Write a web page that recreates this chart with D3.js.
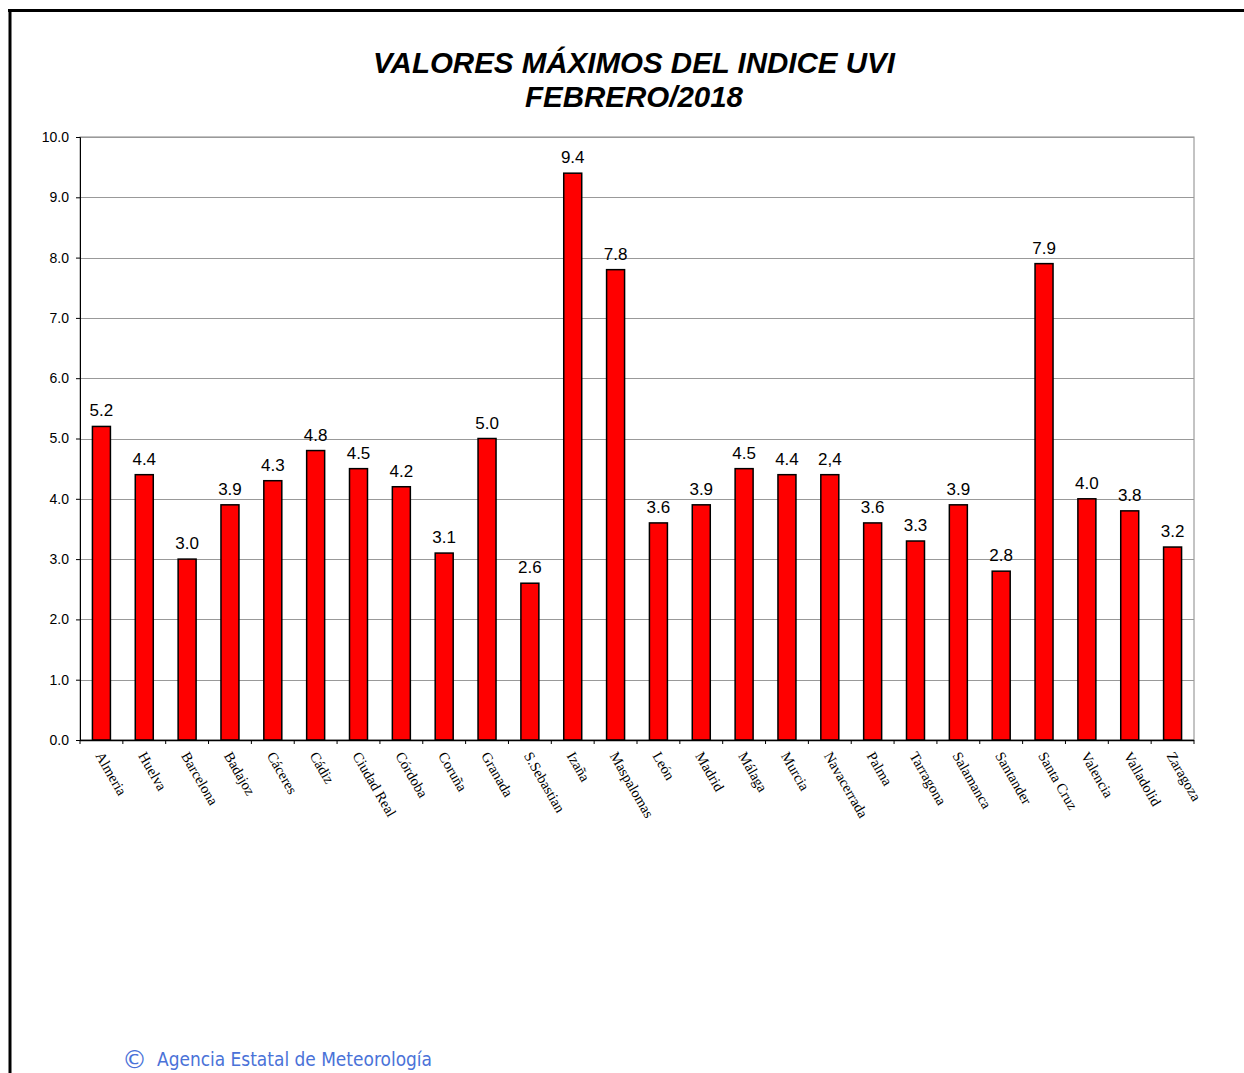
<!DOCTYPE html>
<html>
<head>
<meta charset="utf-8">
<script src="https://cdn.jsdelivr.net/npm/d3@7"></script>
<style>
  body { margin: 0; background: #fff; }
  svg { display: block; }
</style>
</head>
<body>
<div id="chart"></div>
<script>
var svgWidth = 1244;
var svgHeight = 1073;

// data
var cities = ["Almeria", "Huelva", "Barcelona", "Badajoz", "Cáceres", "Cádiz", "Ciudad Real",
  "Córdoba", "Coruña", "Granada", "S.Sebastian", "Izaña", "Maspalomas", "León", "Madrid",
  "Málaga", "Murcia", "Navacerrada", "Palma", "Tarragona", "Salamanca", "Santander",
  "Santa Cruz", "Valencia", "Valladolid", "Zaragoza"];
var uviValues = [5.2, 4.4, 3.0, 3.9, 4.3, 4.8, 4.5, 4.2, 3.1, 5.0, 2.6, 9.4, 7.8, 3.6, 3.9,
  4.5, 4.4, 4.4, 3.6, 3.3, 3.9, 2.8, 7.9, 4.0, 3.8, 3.2];
var valueLabels = ["5.2", "4.4", "3.0", "3.9", "4.3", "4.8", "4.5", "4.2", "3.1", "5.0", "2.6",
  "9.4", "7.8", "3.6", "3.9", "4.5", "4.4", "2,4", "3.6", "3.3", "3.9", "2.8", "7.9", "4.0",
  "3.8", "3.2"];
var yTicks = [0, 1, 2, 3, 4, 5, 6, 7, 8, 9, 10];
var titleLines = ["VALORES MÁXIMOS DEL INDICE UVI", "FEBRERO/2018"];

var margin = { top: 137, right: 50, bottom: 333, left: 80 };
var width = svgWidth - margin.left - margin.right;
var height = svgHeight - margin.top - margin.bottom;

var svg = d3.select("#chart")
  .append("svg")
  .attr("width", svgWidth)
  .attr("height", svgHeight);

// outer frame (top and left edges only visible)
svg.append("line")
  .attr("x1", 8).attr("x2", svgWidth).attr("y1", 10.5).attr("y2", 10.5)
  .attr("stroke", "#000").attr("stroke-width", 3);
svg.append("line")
  .attr("x1", 10).attr("x2", 10).attr("y1", 9).attr("y2", svgHeight)
  .attr("stroke", "#000").attr("stroke-width", 3);

// title
svg.selectAll(".title")
  .data(titleLines)
  .enter()
  .append("text")
  .attr("class", "title")
  .attr("x", 634)
  .attr("y", (d, i) => 73 + i * 34)
  .attr("text-anchor", "middle")
  .style("font-family", "Liberation Sans, Arial, sans-serif")
  .style("font-size", "29.5px")
  .style("font-weight", "bold")
  .style("font-style", "italic")
  .text(d => d);

var chartGroup = svg.append("g")
  .attr("transform", `translate(${margin.left}, ${margin.top})`);

var xScale = d3.scaleBand()
  .domain(cities)
  .range([0, width])
  .paddingInner(0.58)
  .paddingOuter(0.29);

var yScale = d3.scaleLinear()
  .domain([0, 10])
  .range([height, 0]);

// plot frame
chartGroup.append("rect")
  .attr("x", 0).attr("y", 0)
  .attr("width", width).attr("height", height)
  .attr("fill", "none")
  .attr("stroke", "#888")
  .attr("stroke-width", 1);

// gridlines
chartGroup.selectAll(".grid")
  .data(yTicks.slice(1))
  .enter()
  .append("line")
  .attr("class", "grid")
  .attr("x1", 0).attr("x2", width)
  .attr("y1", d => Math.round(yScale(d)) + 0.5)
  .attr("y2", d => Math.round(yScale(d)) + 0.5)
  .attr("stroke", "#999")
  .attr("stroke-width", 1);

// y axis
var leftAxis = d3.axisLeft(yScale)
  .tickValues(yTicks)
  .tickFormat(d3.format(".1f"))
  .tickSize(4)
  .tickPadding(7);

var yAxis = chartGroup.append("g").call(leftAxis);
yAxis.select(".domain").attr("stroke", "#000");
yAxis.selectAll("text")
  .style("font-family", "Liberation Sans, Arial, sans-serif")
  .style("font-size", "14px")
  .attr("fill", "#000");

// bars
chartGroup.selectAll(".bar")
  .data(uviValues)
  .enter()
  .append("rect")
  .attr("class", "bar")
  .attr("x", (d, i) => xScale(cities[i]))
  .attr("y", d => yScale(d))
  .attr("width", xScale.bandwidth())
  .attr("height", d => height - yScale(d))
  .attr("fill", "#ff0000")
  .attr("stroke", "#000")
  .attr("stroke-width", 1.5);

// value labels
chartGroup.selectAll(".val")
  .data(uviValues)
  .enter()
  .append("text")
  .attr("class", "val")
  .attr("x", (d, i) => xScale(cities[i]) + xScale.bandwidth() / 2)
  .attr("y", d => yScale(d) - 10)
  .attr("text-anchor", "middle")
  .style("font-family", "Liberation Sans, Arial, sans-serif")
  .style("font-size", "17px")
  .text((d, i) => valueLabels[i]);

// x axis: ticks between categories
var xAxisG = chartGroup.append("g")
  .attr("transform", `translate(0, ${height})`);
xAxisG.append("line")
  .attr("x1", 0).attr("x2", width).attr("y1", 0.5).attr("y2", 0.5)
  .attr("stroke", "#000").attr("stroke-width", 1.5);
xAxisG.selectAll(".xtick")
  .data(d3.range(cities.length + 1))
  .enter()
  .append("line")
  .attr("class", "xtick")
  .attr("x1", i => i * width / cities.length)
  .attr("x2", i => i * width / cities.length)
  .attr("y1", 0).attr("y2", 4)
  .attr("stroke", "#000");

xAxisG.selectAll(".xlab")
  .data(cities)
  .enter()
  .append("text")
  .attr("class", "xlab")
  .attr("transform", d => `translate(${xScale(d) + xScale.bandwidth() / 2 - 2}, 13) rotate(60)`)
  .attr("dy", "0.35em")
  .style("font-family", "Liberation Serif, Times New Roman, serif")
  .style("font-size", "14.5px")
  .text(d => d);

// credit line
svg.append("text")
  .attr("x", 122)
  .attr("y", 1068)
  .attr("fill", "#4a72d8")
  .style("font-family", "DejaVu Sans, sans-serif")
  .style("font-size", "25px")
  .text("©");
svg.append("text")
  .attr("x", 157)
  .attr("y", 1066)
  .attr("fill", "#4a72d8")
  .attr("textLength", 275)
  .attr("lengthAdjust", "spacingAndGlyphs")
  .style("font-family", "DejaVu Sans, sans-serif")
  .style("font-size", "19px")
  .text("Agencia Estatal de Meteorología");
</script>
</body>
</html>
